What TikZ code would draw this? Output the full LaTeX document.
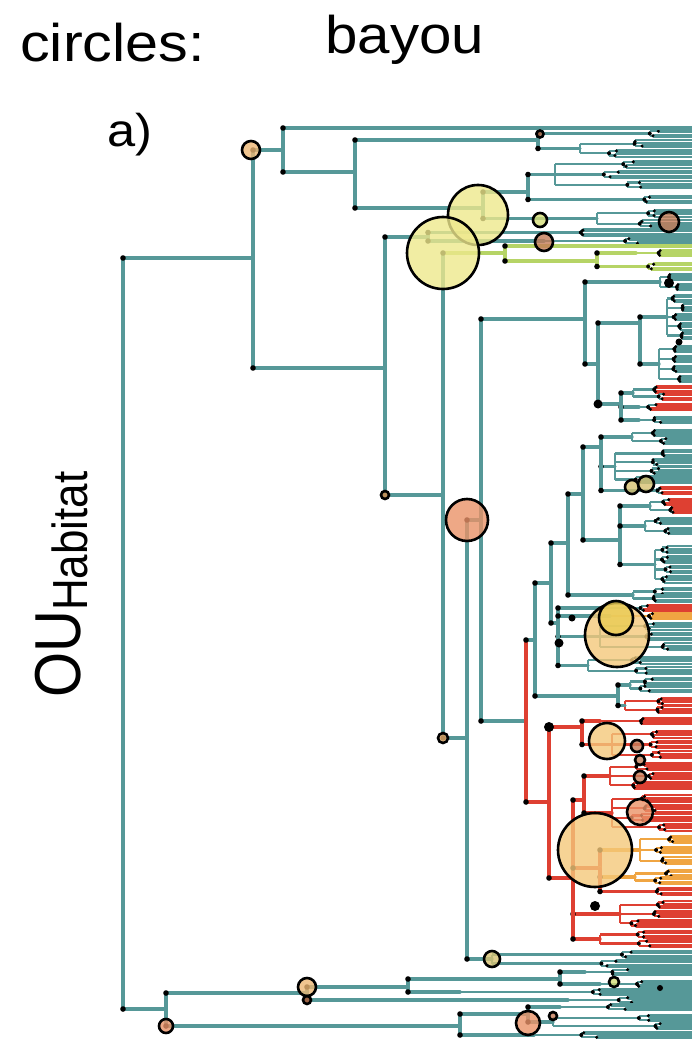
\documentclass[tikz,border=0pt]{standalone}
\usepackage{fontspec}
\setmainfont{Liberation Sans}

% branch colours (regimes)
\definecolor{brTeal}{RGB}{86,152,152}
\definecolor{brGreen}{RGB}{182,212,102}
\definecolor{brRed}{RGB}{222,64,50}
\definecolor{brOrange}{RGB}{240,165,66}
% fills of the shift circles
\definecolor{cPale}{RGB}{238,232,140}
\definecolor{cSand}{RGB}{236,182,116}
\definecolor{cApricot}{RGB}{244,200,122}
\definecolor{cCoral}{RGB}{234,146,104}
\definecolor{cBrown}{RGB}{196,124,88}
\definecolor{cGold}{RGB}{234,204,84}
\definecolor{cKhaki}{RGB}{214,192,112}
\definecolor{cLime}{RGB}{214,222,120}

% elbow branch from a parent node to a child node (vertical, then horizontal)
\newcommand\treeedgeVH[4]{%
  \draw[br,#1] (#3) -- (#3 |- #4);%
  \draw[br,#2] (#3 |- #4) -- (#4);%
  \fill (#3 |- #4) circle (2.8pt);%
}
\newcommand\treeedge[3][brTeal]{\treeedgeVH{#1}{#1}{#2}{#3}}

% a terminal clade: vertical at #2 spanning #3..#4, groups of four tips
% whose inner nodes lie between #5 and #6; #7 branch colour, #8 tip colour
\newcommand\tipclade[8]{%
  \pgfmathsetmacro\cMid{(#3+#4)/2}%
  \coordinate (#1) at (#2,\cMid);%
  \pgfmathtruncatemacro\cNum{max(1,round((#4-#3)/9.2))}%
  \pgfmathsetmacro\cGap{(#4-#3)/\cNum}%
  \pgfmathsetmacro\cTop{#3+0.5*\cGap}%
  \pgfmathsetmacro\cBot{#4-0.5*\cGap}%
  \draw[brthin,#7] (#2,\cTop) -- (#2,\cBot);%
  \foreach \k in {1,...,\cNum}{%
    \pgfmathsetmacro\cyg{#3+(\k-0.5)*\cGap}%
    \pgfmathsetmacro\cxg{#5+rnd*(#6-#5)}%
    \pgfmathsetmacro\cxa{\cxg+rnd*(686-\cxg)*0.25}%
    \pgfmathsetmacro\cxb{\cxg+rnd*(686-\cxg)*0.25}%
    \draw[brthin,#7] (#2,\cyg) -- (\cxg,\cyg)
      (\cxg,\cyg-2.3) -- (\cxg,\cyg+2.3)
      (\cxg,\cyg-2.3) -- (\cxa,\cyg-2.3)
      (\cxg,\cyg+2.3) -- (\cxb,\cyg+2.3);
    \draw[tipln,#7] (\cxa,\cyg-3.45) -- (\cxa,\cyg-1.15)
      (\cxb,\cyg+1.15) -- (\cxb,\cyg+3.45);
    \draw[tipln,#8] (\cxa,\cyg-3.45) -- (692,\cyg-3.45)
      (\cxa,\cyg-1.15) -- (692,\cyg-1.15)
      (\cxb,\cyg+1.15) -- (692,\cyg+1.15)
      (\cxb,\cyg+3.45) -- (692,\cyg+3.45);
    \fill (\cxg,\cyg) circle (2pt) (\cxa,\cyg-2.3) circle (1.7pt) (\cxb,\cyg+2.3) circle (1.7pt);
  }%
}

\begin{document}
\begin{tikzpicture}[x=1pt,y=-1pt,
  br/.style={line width=3.3pt,line cap=round},
  brthin/.style={line width=2.3pt},
  tipln/.style={line width=2.05pt},
  shiftmark/.style={draw=black,line width=2.6pt,fill opacity=0.8},
  bigdot/.style={fill=black},
  txt/.style={anchor=base west,inner sep=0pt}]
\useasboundingbox (0,0) rectangle (692,1040);
\pgfmathsetseed{11}

% ---------- internal nodes ----------
\coordinate (R) at (123,633);
\coordinate (A) at (253,258);
\coordinate (B) at (166,1009);
\coordinate (A1) at (283,150);
\coordinate (t0) at (692,128);
\coordinate (A11) at (355,172);
\coordinate (A111) at (538,140);
\coordinate (A112) at (483,208);
\coordinate (A1121) at (528,192);
\coordinate (A2) at (385,368);
\coordinate (A21) at (428,237);
\coordinate (A22) at (443,495);
\coordinate (G) at (505,253);
\coordinate (g0) at (692,246);
\coordinate (G2) at (597,261);
\coordinate (C) at (467,738);
\coordinate (C1) at (481,520);
\coordinate (C11) at (585,319);
\coordinate (K2) at (598,364);
\coordinate (K21) at (640,323);
\coordinate (K22) at (621,404);
\coordinate (C12) at (526,721);
\coordinate (D) at (535,640);
\coordinate (D1) at (551,583);
\coordinate (D11) at (568,543);
\coordinate (D111) at (583,494);
\coordinate (D1111) at (601,447);
\coordinate (D1112) at (620,540);
\coordinate (D12) at (558,623);
\coordinate (D2) at (618,696);
\coordinate (E) at (549,802);
\coordinate (E1) at (582,727);
\coordinate (E2) at (573,878);
\coordinate (E21) at (584,800);
\coordinate (E24) at (600,868);
\coordinate (B1) at (307,993);
\coordinate (B11) at (408,987);
\coordinate (B111) at (560,979);
\coordinate (B2) at (460,1026);
\coordinate (B21) at (528,1014);

% ---------- terminal clades ----------
\tipclade{q1}{618}{130}{137}{630}{660}{brTeal}{brTeal}
\tipclade{q2}{580}{139}{158}{600}{650}{brTeal}{brTeal}
\tipclade{q3}{555}{159}{190}{580}{650}{brTeal}{brTeal}
\tipclade{q4}{553}{193}{206}{600}{660}{brTeal}{brTeal}
\tipclade{q5}{597}{208}{229}{615}{660}{brTeal}{brTeal}
\tipclade{q6}{520}{229}{236}{560}{640}{brTeal}{brTeal}
\tipclade{q7}{544}{238}{244}{590}{650}{brTeal}{brTeal}
\tipclade{q8}{636}{249}{257}{645}{670}{brGreen}{brGreen}
\tipclade{q9}{633}{262}{271}{645}{670}{brGreen}{brGreen}
\tipclade{k1}{660}{272}{292}{668}{682}{brTeal}{brTeal}
\tipclade{k2}{667}{294}{340}{672}{684}{brTeal}{brTeal}
\tipclade{k3}{659}{344}{384}{670}{684}{brTeal}{brTeal}
\tipclade{k4}{633}{386}{400}{645}{660}{brTeal}{brRed}
\tipclade{k5}{639}{402}{412}{648}{662}{brTeal}{brRed}
\tipclade{k6}{639}{414}{426}{650}{670}{brTeal}{brTeal}
\tipclade{d1}{632}{429}{445}{645}{670}{brTeal}{brTeal}
\tipclade{d2}{615}{449}{484}{630}{668}{brTeal}{brTeal}
\tipclade{d2b}{640}{486}{495}{655}{668}{brTeal}{brRed}
\tipclade{d3}{650}{498}{514}{658}{672}{brTeal}{brRed}
\tipclade{d4}{645}{516}{536}{655}{675}{brTeal}{brTeal}
\tipclade{d5}{655}{545}{584}{662}{680}{brTeal}{brTeal}
\tipclade{d6}{633}{588}{602}{640}{655}{brTeal}{brTeal}
\tipclade{d7}{600}{604}{612}{640}{650}{brTeal}{brRed}
\tipclade{d7b}{610}{613}{619}{640}{650}{brOrange}{brOrange}
\tipclade{d8}{600}{621}{652}{640}{672}{brTeal}{brTeal}
\tipclade{d9}{588}{655}{676}{615}{660}{brTeal}{brTeal}
\tipclade{d10}{630}{678}{692}{640}{660}{brTeal}{brTeal}
\tipclade{d11}{625}{697}{714}{640}{665}{brRed}{brRed}
\tipclade{e1}{600}{716}{726}{615}{650}{brRed}{brRed}
\tipclade{e2}{612}{729}{760}{625}{660}{brRed}{brRed}
\tipclade{e3}{610}{762}{790}{625}{660}{brRed}{brRed}
\tipclade{e4}{612}{794}{832}{630}{665}{brRed}{brRed}
\tipclade{e5}{640}{834}{866}{650}{670}{brOrange}{brOrange}
\tipclade{e6a}{635}{870}{884}{645}{668}{brOrange}{brOrange}
\tipclade{e6b}{635}{885}{898}{645}{668}{brRed}{brRed}
\tipclade{e7}{620}{900}{928}{630}{660}{brRed}{brRed}
\tipclade{e8}{600}{930}{948}{615}{655}{brRed}{brRed}
\tipclade{c2}{492}{950}{968}{598}{640}{brTeal}{brTeal}
\tipclade{b1}{585}{966}{978}{600}{640}{brTeal}{brTeal}
\tipclade{b2}{600}{980}{988}{615}{650}{brTeal}{brTeal}
\tipclade{b3}{460}{988}{996}{560}{640}{brTeal}{brTeal}
\tipclade{b4}{568}{996}{1004}{600}{650}{brTeal}{brTeal}
\tipclade{b5}{560}{1003}{1011}{580}{640}{brTeal}{brTeal}
\tipclade{b6}{553}{1014}{1030}{600}{660}{brTeal}{brTeal}
\tipclade{b7}{534}{1032}{1038}{560}{640}{brTeal}{brTeal}

% ---------- backbone ----------
\treeedge{R}{A} \treeedge{R}{B}
\treeedge{A}{A1} \treeedge{A}{A2}
\treeedge{A1}{t0} \treeedge{A1}{A11}
\treeedge{A11}{A111} \treeedge{A11}{A112}
\treeedge{A111}{q1} \treeedge{A111}{q2}
\treeedge{A112}{A1121} \treeedge{A112}{q5}
\treeedge{A1121}{q3} \treeedge{A1121}{q4}
\treeedge{A2}{A21} \treeedge{A2}{A22}
\treeedge{A21}{q6} \treeedge{A21}{q7}
\treeedgeVH{brTeal}{brGreen}{A22}{G} \treeedge{A22}{C}
\treeedge[brGreen]{G}{g0} \treeedge[brGreen]{G}{G2}
\treeedge[brGreen]{G2}{q8} \treeedge[brGreen]{G2}{q9}
\treeedge{C}{C1} \treeedge{C}{c2}
\treeedge{C1}{C11} \treeedge{C1}{C12}
\treeedge{C11}{k1} \treeedge{C11}{K2}
\treeedge{K2}{K21} \treeedge{K2}{K22}
\treeedge{K21}{k2} \treeedge{K21}{k3}
\treeedge{K22}{k4} \treeedge{K22}{k5} \treeedge{K22}{k6}
\treeedgeVH{brRed}{brTeal}{C12}{D} \treeedge[brRed]{C12}{E}
\treeedge{D}{D1} \treeedge{D}{D2}
\treeedge{D1}{D11} \treeedge{D1}{D12}
\treeedge{D11}{D111} \treeedge{D11}{d6}
\treeedge{D111}{D1111} \treeedge{D111}{D1112}
\treeedge{D1111}{d1} \treeedge{D1111}{d2} \treeedge{D1111}{d2b}
\treeedge{D1112}{d3} \treeedge{D1112}{d4} \treeedge{D1112}{d5}
\treeedge{D12}{d7} \treeedge{D12}{d7b} \treeedge{D12}{d8} \treeedge{D12}{d9}
\treeedge{D2}{d10} \treeedge{D2}{d11}
\treeedge[brRed]{E}{E1} \treeedge[brRed]{E}{E2}
\treeedge[brRed]{E1}{e1} \treeedge[brRed]{E1}{e2}
\treeedge[brRed]{E2}{E21} \treeedge[brRed]{E2}{E24}
\treeedge[brRed]{E2}{e7} \treeedge[brRed]{E2}{e8}
\treeedge[brRed]{E21}{e3} \treeedge[brRed]{E21}{e4}
\treeedgeVH{brRed}{brOrange}{E24}{e5} \treeedge[brOrange]{E24}{e6a} \treeedge[brRed]{E24}{e6b}
\treeedge{B}{B1} \treeedge{B}{B2}
\treeedge{B1}{B11} \treeedge{B1}{b4}
\treeedge{B11}{B111} \treeedge{B11}{b3}
\treeedge{B111}{b1} \treeedge{B111}{b2}
\treeedge{B2}{B21} \treeedge{B2}{b7}
\treeedge{B21}{b5} \treeedge{B21}{b6}

% larger node dots
\fill[bigdot] (598,404) circle (4.5pt) (549,727) circle (5pt) (595,906) circle (5pt)
  (559,643) circle (4.5pt) (572,618) circle (3.5pt) (669,283) circle (5pt)
  (679,342) circle (3.5pt) (660,988) circle (3pt);

% ---------- shift circles ----------
\draw[shiftmark,fill=cSand] (251,150) circle (9pt);
\draw[shiftmark,fill=cPale] (478,215) circle (30pt);
\draw[shiftmark,fill=cPale] (443,253) circle (36pt);
\draw[shiftmark,fill=cLime] (540,220) circle (7pt);
\draw[shiftmark,fill=cBrown] (540,134) circle (3.5pt);
\draw[shiftmark,fill=cBrown] (544,242) circle (9pt);
\draw[shiftmark,fill=cBrown] (669,222) circle (10pt);
\draw[shiftmark,fill=cSand] (385,495) circle (4pt);
\draw[shiftmark,fill=cCoral] (467,520) circle (21pt);
\draw[shiftmark,fill=cSand] (443,738) circle (5pt);
\draw[shiftmark,fill=cKhaki] (632,487) circle (7pt);
\draw[shiftmark,fill=cKhaki] (646,484) circle (8pt);
\draw[shiftmark,fill=cApricot] (617,635) circle (32pt);
\draw[shiftmark,fill=cGold] (616,618) circle (17pt);
\draw[shiftmark,fill=cApricot] (607,741) circle (18pt);
\draw[shiftmark,fill=cBrown] (637,746) circle (6pt);
\draw[shiftmark,fill=cBrown] (640,760) circle (5pt);
\draw[shiftmark,fill=cBrown] (640,777) circle (6pt);
\draw[shiftmark,fill=cCoral] (640,812) circle (13pt);
\draw[shiftmark,fill=cApricot] (595,850) circle (37pt);
\draw[shiftmark,fill=cKhaki] (492,959) circle (8pt);
\draw[shiftmark,fill=cSand] (307,987) circle (9pt);
\draw[shiftmark,fill=cBrown] (307,1000) circle (4pt);
\draw[shiftmark,fill=cLime] (614,982) circle (5pt);
\draw[shiftmark,fill=cCoral] (166,1026) circle (7pt);
\draw[shiftmark,fill=cCoral] (528,1023) circle (12pt);
\draw[shiftmark,fill=cBrown] (553,1016) circle (4pt);

% ---------- texts ----------
\node[txt] (ttl) at (20,62) {\fontsize{53}{53}\selectfont\scalebox{1.12}[1]{circles:}};
\node[txt] (mdl) at (325,54) {\fontsize{53}{53}\selectfont\scalebox{1.1}[1]{bayou}};
\node[txt] (pnl) at (107,147) {\fontsize{46}{46}\selectfont\scalebox{1.1}[1]{a)}};
\node[txt,rotate=90] (yl) at (80,698)
  {\scalebox{1}[1.12]{\fontsize{58}{58}\selectfont OU\raisebox{-7pt}{\fontsize{44}{44}\selectfont Habitat}}};
\end{tikzpicture}
\end{document}
